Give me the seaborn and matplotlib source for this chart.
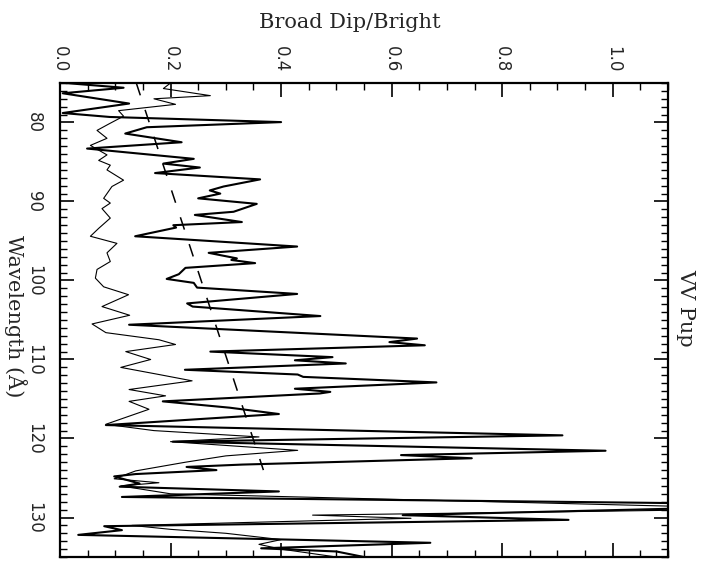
import matplotlib
matplotlib.use("Agg")
import matplotlib.pyplot as plt
import seaborn as sns
from matplotlib.ticker import MultipleLocator, FormatStrFormatter

# Broad dip / bright ratio (thick curve)
wave_broad = [75.0, 75.6, 76.3, 77.6, 78.8, 79.3, 79.95, 80.6, 81.4, 82.5, 83.3, 84.6, 85.2,
              85.7, 86.4, 87.2, 88.1, 88.6, 89.0, 89.6, 90.3, 91.3, 91.7, 92.6, 93.0, 93.3,
              94.4, 95.7, 96.5, 97.2, 97.4, 97.8, 98.4, 99.2, 99.8, 100.3, 100.9, 101.7,
              102.9, 103.3, 104.5, 105.6, 107.35, 107.8, 108.2, 109.0, 109.7, 110.1, 110.5,
              111.3, 111.9, 112.2, 112.9, 113.7, 114.1, 114.3, 115.3, 116.1, 116.9, 118.3,
              119.6, 120.4, 121.55, 122.1, 122.5, 123.3, 123.6, 124.0, 124.5, 124.8, 125.7,
              126.1, 126.7, 127.4, 128.4, 129.7, 130.3, 131.1, 131.6, 132.2, 133.2, 133.9,
              134.3, 135.0]
ratio_broad = [0.01, 0.115, 0.005, 0.125, 0.005, 0.09, 0.40, 0.157, 0.118, 0.22, 0.049, 0.242,
               0.187, 0.253, 0.172, 0.362, 0.296, 0.271, 0.29, 0.25, 0.356, 0.314, 0.244, 0.329,
               0.205, 0.21, 0.136, 0.429, 0.269, 0.32, 0.31, 0.353, 0.227, 0.215, 0.193, 0.242,
               0.248, 0.429, 0.23, 0.24, 0.471, 0.125, 0.646, 0.596, 0.66, 0.272, 0.493, 0.425,
               0.517, 0.226, 0.43, 0.44, 0.681, 0.425, 0.489, 0.47, 0.186, 0.307, 0.396, 0.083,
               0.909, 0.204, 0.987, 0.617, 0.745, 0.33, 0.229, 0.283, 0.137, 0.098, 0.144,
               0.108, 0.396, 0.112, 1.4, 0.62, 0.92, 0.08, 0.112, 0.033, 0.67, 0.364,
               0.5, 0.55]

# Narrow dip / bright ratio (thin curve)
wave_narrow = [75.0, 75.7, 76.6, 77.0, 77.7, 78.5, 79.2, 80.2, 81.0, 82.0, 82.9, 84.1, 84.8,
               85.4, 86.0, 87.3, 88.1, 89.6, 90.2, 90.9, 92.1, 93.4, 94.4, 95.3, 96.5, 97.6,
               98.6, 99.7, 100.8, 101.8, 103.3, 104.4, 105.5, 106.6, 107.5, 108.1, 109.0,
               110.0, 111.0, 111.9, 112.7, 113.8, 114.6, 115.3, 116.3, 118.2, 119.0, 119.8,
               120.4, 121.5, 122.2, 123.0, 124.1, 125.1, 125.6, 126.0, 127.0, 128.9, 129.7,
               130.1, 131.0, 131.5, 132.0, 132.8, 133.4, 134.0, 135.0]
ratio_narrow = [0.20, 0.187, 0.272, 0.17, 0.209, 0.106, 0.115, 0.088, 0.067, 0.085, 0.055, 0.085,
                0.07, 0.091, 0.085, 0.115, 0.094, 0.079, 0.091, 0.076, 0.091, 0.07, 0.055, 0.103,
                0.085, 0.091, 0.067, 0.064, 0.079, 0.124, 0.076, 0.126, 0.058, 0.083, 0.179,
                0.209, 0.119, 0.164, 0.11, 0.179, 0.239, 0.125, 0.191, 0.125, 0.161, 0.083, 0.17,
                0.36, 0.2, 0.43, 0.30, 0.227, 0.137, 0.098, 0.179, 0.11, 0.2, 1.3, 0.457,
                0.635, 0.13, 0.2, 0.3, 0.40, 0.36, 0.40, 0.5]

# Linear trend (dashed)
trend_wave = [75.0, 124.0]
trend_ratio = [0.138, 0.368]

sns.set_theme(style="white")
plt.rcParams["font.family"] = ["DejaVu Serif"]

W, H = 701, 563
fig = plt.figure(figsize=(W / 100, H / 100), dpi=100)
ax = fig.add_axes([60 / W, 1 - 557 / H, 608 / W, 474 / H])

sns.lineplot(x=ratio_broad, y=wave_broad, sort=False, estimator=None, color="black",
             linewidth=1.5, ax=ax)
sns.lineplot(x=ratio_narrow, y=wave_narrow, sort=False, estimator=None, color="black",
             linewidth=0.8, ax=ax)
sns.lineplot(x=trend_ratio, y=trend_wave, sort=False, estimator=None, color="black",
             linewidth=1.1, linestyle=(0, (8.5, 10)), ax=ax)

ax.set_xlim(0, 1.1)
ax.set_ylim(135, 75)
ax.set_xlabel("")
ax.set_ylabel("")

ax.xaxis.set_major_locator(MultipleLocator(0.2))
ax.xaxis.set_minor_locator(MultipleLocator(0.05))
ax.yaxis.set_major_locator(MultipleLocator(10))
ax.yaxis.set_minor_locator(MultipleLocator(1))
ax.xaxis.set_major_formatter(FormatStrFormatter("%.1f"))

ax.tick_params(axis="both", which="both", direction="in", top=True, bottom=True,
               left=True, right=True, labeltop=True, labelbottom=False,
               labelleft=True, labelright=False, color="black")
ax.tick_params(which="major", length=10, width=1.2)
ax.tick_params(which="minor", length=5, width=1.0)
ax.tick_params(axis="x", labelrotation=-90, pad=8)
ax.tick_params(axis="y", labelrotation=-90, pad=12)
for lab in ax.get_xticklabels() + ax.get_yticklabels():
    lab.set_fontfamily("DejaVu Sans")
    lab.set_fontsize(12)
for lab in ax.get_yticklabels():
    lab.set_verticalalignment("center")

for sp in ax.spines.values():
    sp.set_linewidth(1.6)
    sp.set_color("black")

fig.text(350 / W, 1 - 22 / H, "Broad Dip/Bright", ha="center", va="center", fontsize=15)
fig.text(15 / W, 1 - 316 / H, "Wavelength (Å)", ha="center", va="center", fontsize=15,
         rotation=-90)
fig.text(686 / W, 1 - 308 / H, "VV Pup", ha="center", va="center", fontsize=15,
         rotation=-90)

fig.savefig("out.png", dpi=100)
